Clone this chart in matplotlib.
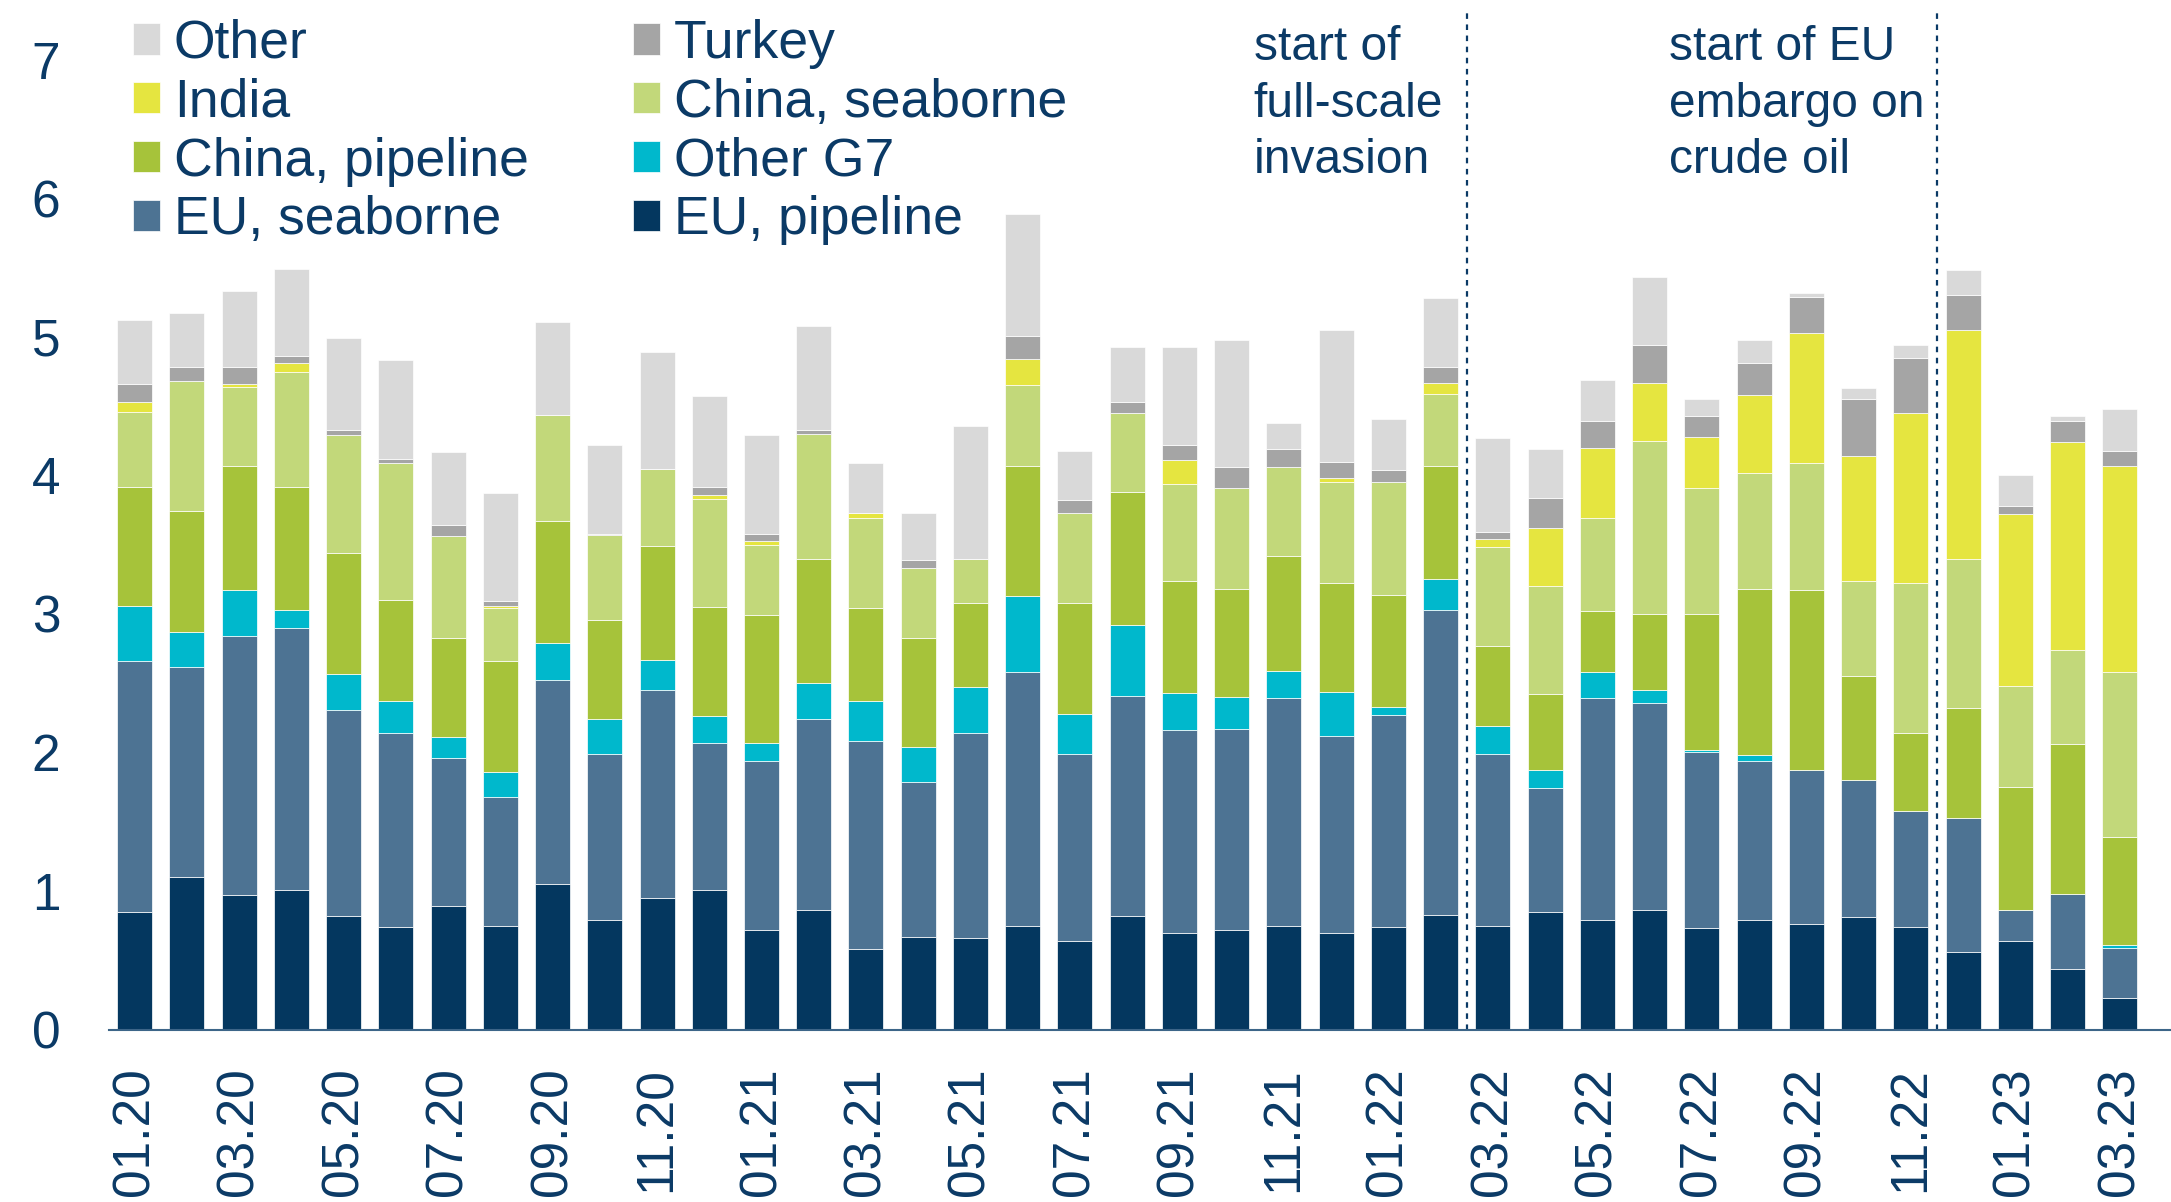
import numpy as np
import matplotlib
matplotlib.use("Agg")
from matplotlib import pyplot as plt

# Monthly bars, Jan 2020 - Mar 2023
months = ["01.20", "02.20", "03.20", "04.20", "05.20", "06.20", "07.20", "08.20",
          "09.20", "10.20", "11.20", "12.20", "01.21", "02.21", "03.21", "04.21",
          "05.21", "06.21", "07.21", "08.21", "09.21", "10.21", "11.21", "12.21",
          "01.22", "02.22", "03.22", "04.22", "05.22", "06.22", "07.22", "08.22",
          "09.22", "10.22", "11.22", "12.22", "01.23", "02.23", "03.23"]

eu_pipeline = [0.85, 1.10, 0.97, 1.01, 0.82, 0.74, 0.89, 0.75, 1.05, 0.79, 0.95, 1.01,
               0.72, 0.86, 0.58, 0.67, 0.66, 0.75, 0.64, 0.82, 0.70, 0.72, 0.75, 0.70,
               0.74, 0.83, 0.75, 0.85, 0.79, 0.86, 0.73, 0.79, 0.76, 0.81, 0.74, 0.56,
               0.64, 0.44, 0.23]
eu_seaborne = [1.81, 1.52, 1.87, 1.89, 1.49, 1.40, 1.07, 0.93, 1.47, 1.20, 1.50, 1.06,
               1.22, 1.38, 1.50, 1.12, 1.48, 1.83, 1.35, 1.59, 1.46, 1.45, 1.64, 1.42,
               1.53, 2.20, 1.24, 0.89, 1.60, 1.50, 1.27, 1.15, 1.11, 0.99, 0.84, 0.97,
               0.22, 0.54, 0.36]
other_g7 = [0.40, 0.25, 0.33, 0.13, 0.26, 0.23, 0.15, 0.18, 0.27, 0.25, 0.22, 0.19,
            0.13, 0.26, 0.29, 0.25, 0.33, 0.55, 0.29, 0.51, 0.27, 0.23, 0.20, 0.32,
            0.06, 0.22, 0.20, 0.13, 0.19, 0.09, 0.02, 0.04, 0.00, 0.00, 0.00, 0.00,
            0.00, 0.00, 0.02]
china_pipeline = [0.86, 0.87, 0.90, 0.89, 0.87, 0.73, 0.72, 0.80, 0.88, 0.72, 0.82, 0.79,
                  0.92, 0.90, 0.67, 0.79, 0.61, 0.94, 0.80, 0.96, 0.81, 0.78, 0.83, 0.78,
                  0.81, 0.82, 0.58, 0.55, 0.44, 0.55, 0.98, 1.20, 1.30, 0.75, 0.56, 0.79,
                  0.89, 1.08, 0.78]
china_seaborne = [0.54, 0.94, 0.57, 0.83, 0.85, 0.99, 0.73, 0.38, 0.77, 0.61, 0.56, 0.78,
                  0.51, 0.90, 0.65, 0.50, 0.32, 0.58, 0.65, 0.57, 0.70, 0.73, 0.64, 0.73,
                  0.81, 0.52, 0.71, 0.78, 0.67, 1.25, 0.91, 0.84, 0.92, 0.69, 1.08, 1.08,
                  0.73, 0.68, 1.19]
india = [0.07, 0.00, 0.02, 0.06, 0.00, 0.00, 0.00, 0.02, 0.00, 0.00, 0.00, 0.03,
         0.03, 0.00, 0.04, 0.00, 0.00, 0.19, 0.00, 0.00, 0.17, 0.00, 0.00, 0.03,
         0.00, 0.08, 0.06, 0.42, 0.51, 0.42, 0.37, 0.56, 0.94, 0.90, 1.23, 1.65,
         1.24, 1.50, 1.49]
turkey = [0.13, 0.10, 0.12, 0.05, 0.04, 0.03, 0.08, 0.03, 0.00, 0.01, 0.00, 0.06,
          0.05, 0.03, 0.00, 0.06, 0.00, 0.17, 0.09, 0.08, 0.11, 0.15, 0.13, 0.12,
          0.09, 0.11, 0.05, 0.22, 0.19, 0.27, 0.15, 0.23, 0.26, 0.41, 0.40, 0.25,
          0.06, 0.15, 0.11]
other = [0.46, 0.39, 0.55, 0.63, 0.66, 0.71, 0.53, 0.78, 0.67, 0.64, 0.84, 0.65,
         0.71, 0.75, 0.36, 0.34, 0.96, 0.88, 0.36, 0.40, 0.71, 0.92, 0.19, 0.95,
         0.37, 0.50, 0.68, 0.35, 0.30, 0.49, 0.12, 0.17, 0.03, 0.08, 0.09, 0.18,
         0.22, 0.04, 0.30]

series = [
    ("EU, pipeline", eu_pipeline, "#04375f"),
    ("EU, seaborne", eu_seaborne, "#4d7393"),
    ("Other G7", other_g7, "#00b8cc"),
    ("China, pipeline", china_pipeline, "#a6c33a"),
    ("China, seaborne", china_seaborne, "#c2d87a"),
    ("India", india, "#e5e540"),
    ("Turkey", turkey, "#a5a5a5"),
    ("Other", other, "#d9d9d9"),
]
legend_order = ["Other", "India", "China, pipeline", "EU, seaborne",
                "Turkey", "China, seaborne", "Other G7", "EU, pipeline"]

events = [(25.5, "start of\nfull-scale\ninvasion", 21.42),
          (34.5, "start of EU\nembargo on\ncrude oil", 29.37)]

navy = "#0b3a66"
plt.rcParams["font.family"] = ["Liberation Sans", "DejaVu Sans"]
plt.rcParams["font.size"] = 37

fig = plt.figure(figsize=(21.71, 12.02), dpi=100)
ax = fig.add_axes([109 / 2171, 1 - 1029.5 / 1202, 1 - 109 / 2171, 1025 / 1202])

x = np.arange(len(months))
bottom = np.zeros(len(months))
handles = {}
for name, vals, col in series:
    vals = np.array(vals)
    b = ax.bar(x, vals, width=0.67, bottom=bottom, color=col,
               edgecolor="white", linewidth=0.5, label=name)
    handles[name] = b
    bottom += vals

# event markers
for xv, txt, tx in events:
    ax.plot([xv, xv], [0, 7.35], color=navy, lw=1.6, ls=(0, (2.5, 2.5)),
            clip_on=False)
    ax.text(tx, 7.25, txt, color=navy, ha="left", va="top", linespacing=1.33,
            fontsize=34.5)

ax.set_xlim(-0.49, 38.98)
ax.set_ylim(0, 7.4)
ax.set_yticks(range(0, 8))
ax.set_xticks(x[::2])
ax.set_xticklabels(months[::2], rotation=90)
ax.tick_params(axis="both", length=0, colors=navy, labelsize=37)
ax.tick_params(axis="x", pad=27)
ax.tick_params(axis="y", pad=35)
for s in ["top", "right", "left"]:
    ax.spines[s].set_visible(False)
ax.spines["bottom"].set_color("#3d6588")
ax.spines["bottom"].set_linewidth(1.5)

leg = fig.legend([handles[n] for n in legend_order], legend_order,
                 loc="upper left", bbox_to_anchor=(133 / 2171, 1 - 19 / 1202),
                 ncol=2, frameon=False, borderpad=0, borderaxespad=0,
                 handlelength=0.5, handleheight=0.52, handletextpad=0.26,
                 labelspacing=0.165, columnspacing=1.96, fontsize=38.5)
for t in leg.get_texts():
    t.set_color(navy)

fig.savefig("out.png", dpi=100)
